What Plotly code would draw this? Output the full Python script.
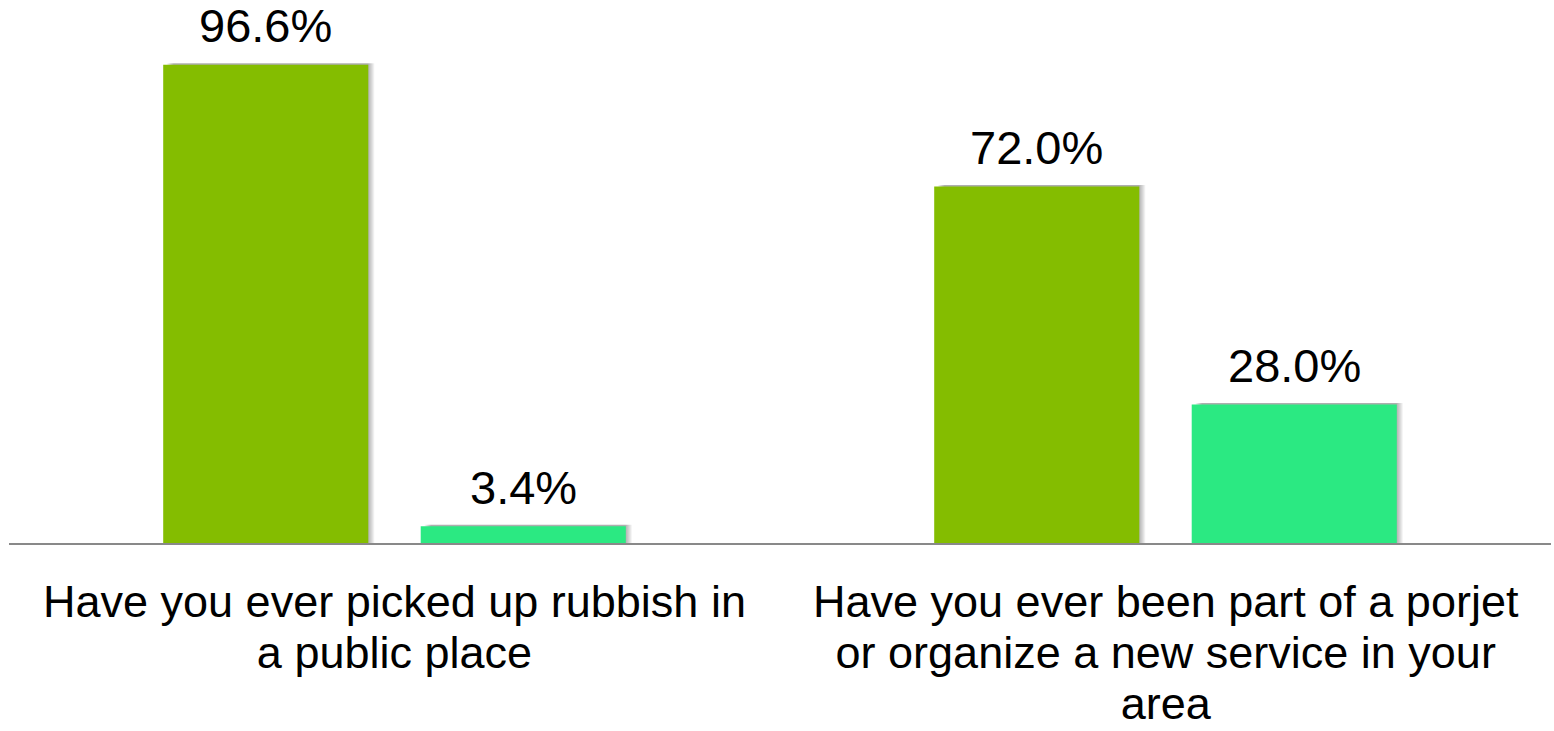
import plotly.graph_objects as go

# Survey questions (each split into display lines) and answer shares in percent
questions = [
    ["Have you ever picked up rubbish in", "a public place"],
    ["Have you ever been part of a porjet", "or organize a new service in your", "area"],
]
yes_share = [96.6, 72.0]
no_share = [3.4, 28.0]
value_labels_yes = ["96.6%", "72.0%"]
value_labels_no = ["3.4%", "28.0%"]

YES_COLOR = "#84BD00"
NO_COLOR = "#2BE982"
FONT = "Liberation Sans, Arial, sans-serif"

BAR_W = 0.266
YES_OFF = -0.300
NO_OFF = 0.034
PX = 1 / 771.0  # one pixel in category units

LABEL_PX = 45          # glyph size of the category labels
LINE_GAP_PX = 51       # distance between label lines
BASE_SIZE = LINE_GAP_PX / 1.3  # plotly spaces lines at 1.3 x base font size

xs = list(range(len(questions)))
fig = go.Figure()

# soft drop shadow behind each bar
for k in range(1, 8):
    for vals, off in ((yes_share, YES_OFF), (no_share, NO_OFF)):
        fig.add_trace(go.Bar(
            x=xs, y=[v + 0.3 for v in vals], width=BAR_W - 4 * PX,
            offset=off + (3 + k) * PX,
            marker=dict(color="rgba(0,0,0,0.05)", line=dict(width=0)),
            hoverinfo="skip", showlegend=False,
        ))

fig.add_trace(go.Bar(
    x=xs, y=yes_share, width=BAR_W, offset=YES_OFF, name="Yes",
    marker=dict(color=YES_COLOR, line=dict(width=0)), showlegend=False,
))
fig.add_trace(go.Bar(
    x=xs, y=no_share, width=BAR_W, offset=NO_OFF, name="No",
    marker=dict(color=NO_COLOR, line=dict(width=0)), showlegend=False,
))

annotations = []
for i in xs:
    for vals, labels, off in ((yes_share, value_labels_yes, YES_OFF),
                              (no_share, value_labels_no, NO_OFF)):
        annotations.append(dict(
            x=i + off + BAR_W / 2, y=vals[i], xref="x", yref="y",
            text=labels[i], showarrow=False, yanchor="middle", yshift=39,
            font=dict(family=FONT, size=47, color="#000000"),
        ))
    # category label, centred under its pair of bars
    text = "<br>".join(
        f"<span style='font-size:{LABEL_PX}px'>{line}</span>" for line in questions[i]
    )
    annotations.append(dict(
        x=i, y=0, xref="x", yref="paper", text=text, showarrow=False,
        yanchor="top", yshift=-31, align="center",
        font=dict(family=FONT, size=BASE_SIZE, color="#000000"),
    ))

fig.update_layout(
    barmode="overlay",
    width=1554, height=731,
    margin=dict(l=9, r=3, t=48, b=188),
    paper_bgcolor="white", plot_bgcolor="white",
    annotations=annotations,
    xaxis=dict(range=[-0.5, 1.5], showticklabels=False, ticks="",
               showgrid=False, zeroline=False,
               showline=True, linecolor="#898989", linewidth=2),
    yaxis=dict(range=[0, 100], visible=False, showgrid=False, zeroline=False),
)

fig.write_html("out.html", config={"displayModeBar": False})
